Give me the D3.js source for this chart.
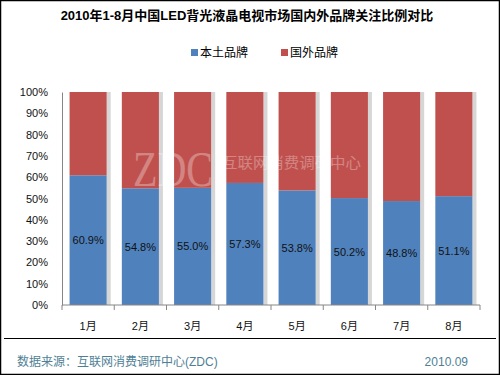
<!DOCTYPE html>
<html>
<head>
<meta charset="utf-8">
<script src="https://cdn.jsdelivr.net/npm/d3@7"></script>
<style>
  body { margin: 0; background: #fff; }
  text { font-family: "Liberation Sans", Arial, "Noto Sans CJK SC", sans-serif; }
</style>
</head>
<body>
<svg id="chart"></svg>
<script>
// chart data
const months = ['1月', '2月', '3月', '4月', '5月', '6月', '7月', '8月'];
const domestic = [60.9, 54.8, 55.0, 57.3, 53.8, 50.2, 48.8, 51.1];
const foreign = domestic.map(d => +(100 - d).toFixed(1));
const yTicks = [0, 10, 20, 30, 40, 50, 60, 70, 80, 90, 100];
const seriesNames = ['本土品牌', '国外品牌'];
const colors = ['#4F81BD', '#C0504D'];

const W = 500, H = 375;
const margin = { top: 92, right: 20, bottom: 70, left: 62 };
const width = W - margin.left - margin.right;
const height = H - margin.top - margin.bottom;

const svg = d3.select('#chart').attr('width', W).attr('height', H);

// outer frame
svg.append('rect')
  .attr('x', 0.5).attr('y', 0.5)
  .attr('width', W - 1).attr('height', H - 1)
  .attr('fill', '#fff').attr('stroke', '#000').attr('stroke-width', 1.5);

// title
svg.append('text')
  .attr('x', 247).attr('y', 20)
  .attr('text-anchor', 'middle')
  .style('font-size', '13px').style('font-weight', 'bold')
  .text('2010年1-8月中国LED背光液晶电视市场国内外品牌关注比例对比');

// legend
const legend = svg.append('g');
const legendX = [191, 281];
seriesNames.forEach((name, i) => {
  legend.append('rect')
    .attr('x', legendX[i]).attr('y', 49)
    .attr('width', 7).attr('height', 7)
    .attr('fill', colors[i]);
  legend.append('text')
    .attr('x', legendX[i] + 9).attr('y', 57)
    .style('font-size', '12px')
    .text(name);
});

const chart = svg.append('g')
  .attr('transform', `translate(${margin.left},${margin.top})`);

const xScale = d3.scaleBand().domain(months).range([0, width]).paddingInner(0.29).paddingOuter(0.145);
const yScale = d3.scaleLinear().domain([0, 100]).range([height, 0]);

const stackData = months.map((m, i) => ({ month: m, d: domestic[i], f: foreign[i] }));

// bar shadows
chart.append('g').selectAll('rect')
  .data(stackData)
  .join('rect')
  .attr('x', d => xScale(d.month) + xScale.bandwidth())
  .attr('y', yScale(100))
  .attr('width', 4)
  .attr('height', height)
  .attr('fill', '#bbb')
  .attr('opacity', 0.6);

// domestic bars
chart.append('g').selectAll('rect')
  .data(stackData)
  .join('rect')
  .attr('x', d => xScale(d.month))
  .attr('y', d => yScale(d.d))
  .attr('width', xScale.bandwidth())
  .attr('height', d => height - yScale(d.d))
  .attr('fill', colors[0]);

// foreign bars
chart.append('g').selectAll('rect')
  .data(stackData)
  .join('rect')
  .attr('x', d => xScale(d.month))
  .attr('y', yScale(100))
  .attr('width', xScale.bandwidth())
  .attr('height', d => yScale(d.d) - yScale(100))
  .attr('fill', colors[1]);

// watermark
const wm = chart.append('g').attr('opacity', 0.3);
wm.append('text')
  .attr('x', 71).attr('y', 94)
  .attr('textLength', 80).attr('lengthAdjust', 'spacingAndGlyphs')
  .style('font-family', '"Liberation Serif", serif')
  .style('font-size', '50px')
  .attr('fill', '#fff')
  .text('ZDC');
wm.append('text')
  .attr('x', 160).attr('y', 76)
  .attr('textLength', 139).attr('lengthAdjust', 'spacingAndGlyphs')
  .style('font-size', '15px')
  .attr('fill', '#fff')
  .text('互联网消费调研中心');

// value labels
chart.append('g').selectAll('text')
  .data(stackData)
  .join('text')
  .attr('x', d => xScale(d.month) + xScale.bandwidth() / 2)
  .attr('y', d => yScale(d.d / 2) + 4)
  .attr('text-anchor', 'middle')
  .style('font-size', '11px')
  .attr('fill', '#111')
  .text(d => d.d.toFixed(1) + '%');

// y axis
const yAxis = d3.axisLeft(yScale)
  .tickValues(yTicks)
  .tickSize(0)
  .tickPadding(14)
  .tickFormat(d => d + '%');
const yAxisG = chart.append('g').call(yAxis);
yAxisG.select('.domain').attr('stroke', '#868686');
yAxisG.selectAll('text').style('font-size', '11px').style('font-family', '"Liberation Sans", Arial, sans-serif').attr('fill', '#111');

// x axis with ticks at category boundaries
const xAxisG = chart.append('g').attr('transform', `translate(0,${height})`);
xAxisG.append('line')
  .attr('x1', 0).attr('x2', width)
  .attr('stroke', '#868686');
const step = xScale.step();
const boundaries = d3.range(months.length + 1).map(i => i * step);
xAxisG.selectAll('.tick-mark')
  .data(boundaries)
  .join('line')
  .attr('class', 'tick-mark')
  .attr('x1', d => d).attr('x2', d => d)
  .attr('y1', 0).attr('y2', 5)
  .attr('stroke', '#868686');
xAxisG.selectAll('.tick-label')
  .data(months)
  .join('text')
  .attr('class', 'tick-label')
  .attr('x', d => xScale(d) + xScale.bandwidth() / 2)
  .attr('y', 25)
  .attr('text-anchor', 'middle')
  .style('font-size', '11px')
  .attr('fill', '#111')
  .text(d => d);

// footer separator
svg.append('line')
  .attr('x1', 4).attr('x2', 496)
  .attr('y1', 338.5).attr('y2', 338.5)
  .attr('stroke', '#000').attr('stroke-width', 1);

svg.append('text')
  .attr('x', 17).attr('y', 366)
  .style('font-size', '12px')
  .attr('fill', '#4F7F95')
  .text('数据来源：互联网消费调研中心(ZDC)');

svg.append('text')
  .attr('x', 468).attr('y', 366)
  .attr('text-anchor', 'end')
  .style('font-size', '12px')
  .attr('fill', '#4F7F95')
  .text('2010.09');
</script>
</body>
</html>
